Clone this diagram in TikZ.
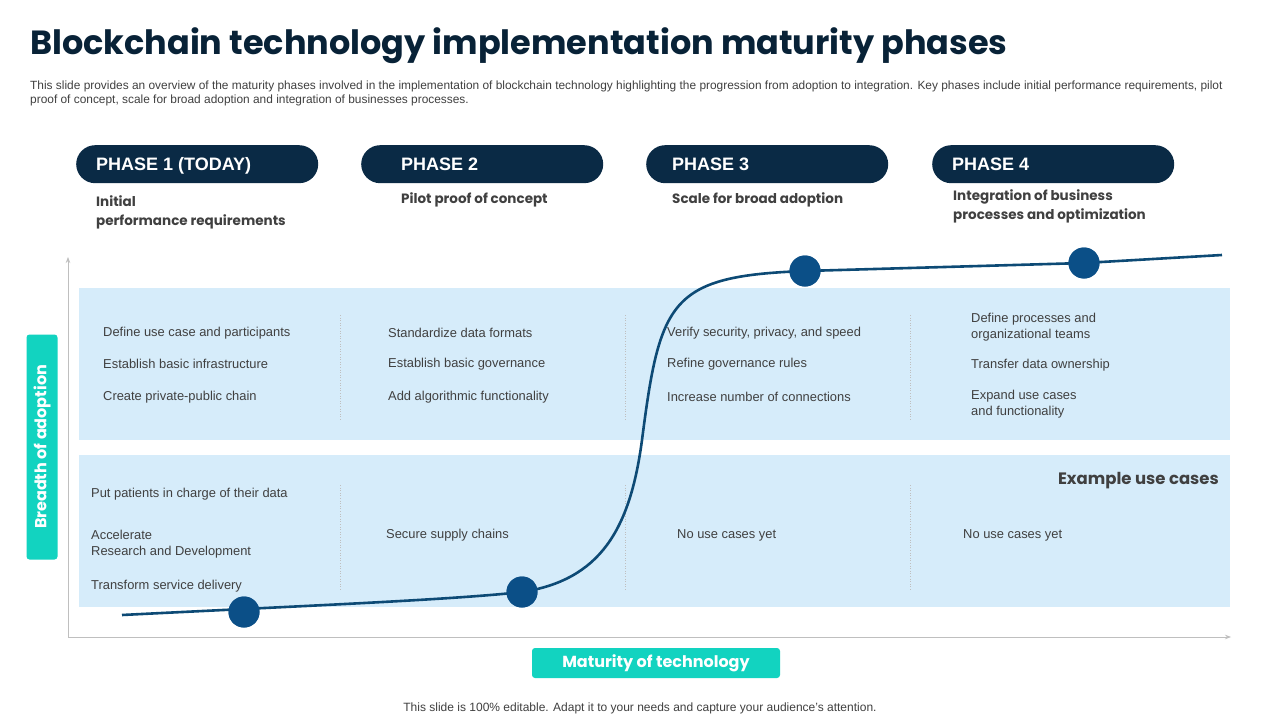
\documentclass[tikz,border=0pt]{standalone}
\usepackage{fontspec}
\setmainfont{Liberation Sans}
\newfontfamily\pop{Poppins}
\usetikzlibrary{arrows.meta}
\definecolor{navy}{HTML}{0A2A45}
\definecolor{band}{HTML}{D6ECFA}
\definecolor{curve}{HTML}{0D4A75}
\definecolor{dotc}{HTML}{0B4F87}
\definecolor{teal}{HTML}{12D3C0}
\definecolor{txt}{HTML}{404040}
\begin{document}
\begin{tikzpicture}[x=1pt,y=-1pt,
 pill/.style={fill=navy,rounded corners=19pt,minimum width=242pt,minimum height=38pt,anchor=north west,inner sep=0},
 ph/.style={text=white,font=\bfseries\fontsize{18}{20}\selectfont,anchor=west,inner sep=0},
 sub/.style={text=txt,font=\pop\bfseries\fontsize{13.5}{19}\selectfont,anchor=north west,align=left,inner sep=0},
 bt/.style={text=txt,font=\fontsize{12.9}{16}\selectfont,anchor=west,align=left,inner sep=0},
 sep/.style={gray!50,dotted,line width=0.6pt},
 dot/.style={circle,fill=dotc,minimum size=31pt,inner sep=0},
 tbox/.style={fill=teal,rounded corners=3pt,text=white,font=\pop\bfseries\fontsize{16}{18}\selectfont,inner sep=0}]
\useasboundingbox (0,0) rectangle (1280,720);
\fill[white] (0,0) rectangle (1280,720);
\node[anchor=west,text=navy!80!black,font=\pop\bfseries\fontsize{33.5}{36}\selectfont,inner sep=0] (title) at (30,46) {Blockchain technology implementation maturity phases};
\node[anchor=north west,text=txt,font=\fontsize{11.9}{14}\selectfont,align=left,inner sep=0] (desc) at (30,81) {This slide provides an overview of the maturity phases involved in the implementation of blockchain technology highlighting the progression from adoption to integration. Key phases include initial performance requirements, pilot\\proof of concept, scale for broad adoption and integration of businesses processes.};
% bands
\fill[band] (79,288) rectangle (1230,440);
\fill[band] (79,455) rectangle (1230,607);
\foreach \x in {340,625,910}{\draw[sep] (\x,315)--(\x,420); \draw[sep] (\x,485)--(\x,590);}
% axes
\draw[gray!50,line width=0.8pt,-{Stealth[length=6pt]}] (68,637) -- (68,257);
\draw[gray!50,line width=0.8pt,-{Stealth[length=6pt]}] (68,637) -- (1231,637);
% pills
\node[pill] (p1) at (76,145) {}; \node[ph] at (96,166) {PHASE 1 (TODAY)};
\node[pill] (p2) at (361,145) {}; \node[ph] at (401,164) {PHASE 2};
\node[pill] (p3) at (646,145) {}; \node[ph] at (672,164) {PHASE 3};
\node[pill] (p4) at (932,145) {}; \node[ph] at (952,164) {PHASE 4};
\node[sub] at (96,195) {Initial\\performance requirements};
\node[sub] at (401,192) {Pilot proof of concept};
\node[sub] at (672,192) {Scale for broad adoption};
\node[sub] at (953,189) {Integration of business\\processes and optimization};
% band 1 text
\node[bt] at (103,333) {Define use case and participants};
\node[bt] at (103,364) {Establish basic infrastructure};
\node[bt] at (103,397) {Create private-public  chain};
\node[bt] at (388,333) {Standardize data formats};
\node[bt] at (388,364) {Establish basic governance};
\node[bt] at (388,397) {Add algorithmic functionality};
\node[bt] at (667,333) {Verify security, privacy, and speed};
\node[bt] at (667,364) {Refine governance  rules};
\node[bt] at (667,397) {Increase number of connections};
\node[bt] at (971,327) {Define processes and\\organizational teams};
\node[bt] at (971,365) {Transfer  data ownership};
\node[bt] at (971,404) {Expand use cases\\and functionality};
% band 2 text
\node[anchor=east,text=txt,font=\pop\bfseries\fontsize{16.5}{18}\selectfont,inner sep=0] at (1219,481) {Example use cases};
\node[bt] at (91,494) {Put patients in charge  of their data};
\node[bt] at (91,544) {Accelerate\\Research and Development};
\node[bt] at (91,586) {Transform  service delivery};
\node[bt] at (386,535) {Secure supply chains};
\node[bt] at (677,535) {No use cases yet};
\node[bt] at (963,535) {No use cases yet};
% curve
\coordinate (c0) at (122,615);
\coordinate (c5) at (1222,255);
\node[dot] (d1) at (244,612) {};
\node[dot] (d2) at (522,592) {};
\node[dot] (d3) at (805,271) {};
\node[dot] (d4) at (1084,263) {};
\draw[curve,line width=2.6pt] (c0) .. controls (300,606) and (450,600) .. (522,592)
 .. controls (600,580) and (630,530) .. (642,440)
 .. controls (660,300) and (670,276) .. (805,271) -- (1084,263) -- (c5);
\foreach \d in {d1,d2,d3,d4}{\node[dot] at (\d) {};}
% axis labels
\node[tbox,minimum width=248pt,minimum height=30pt] (xl) at (656,663) {Maturity of technology};
\node[tbox,minimum width=225pt,minimum height=31pt,rotate=90] (yl) at (42,447) {Breadth of adoption};
\node[text=txt,font=\fontsize{12}{14}\selectfont] (foot) at (640,708) {This slide is 100\% editable. Adapt it to your needs and capture your audience's attention.};
\end{tikzpicture}
\end{document}
